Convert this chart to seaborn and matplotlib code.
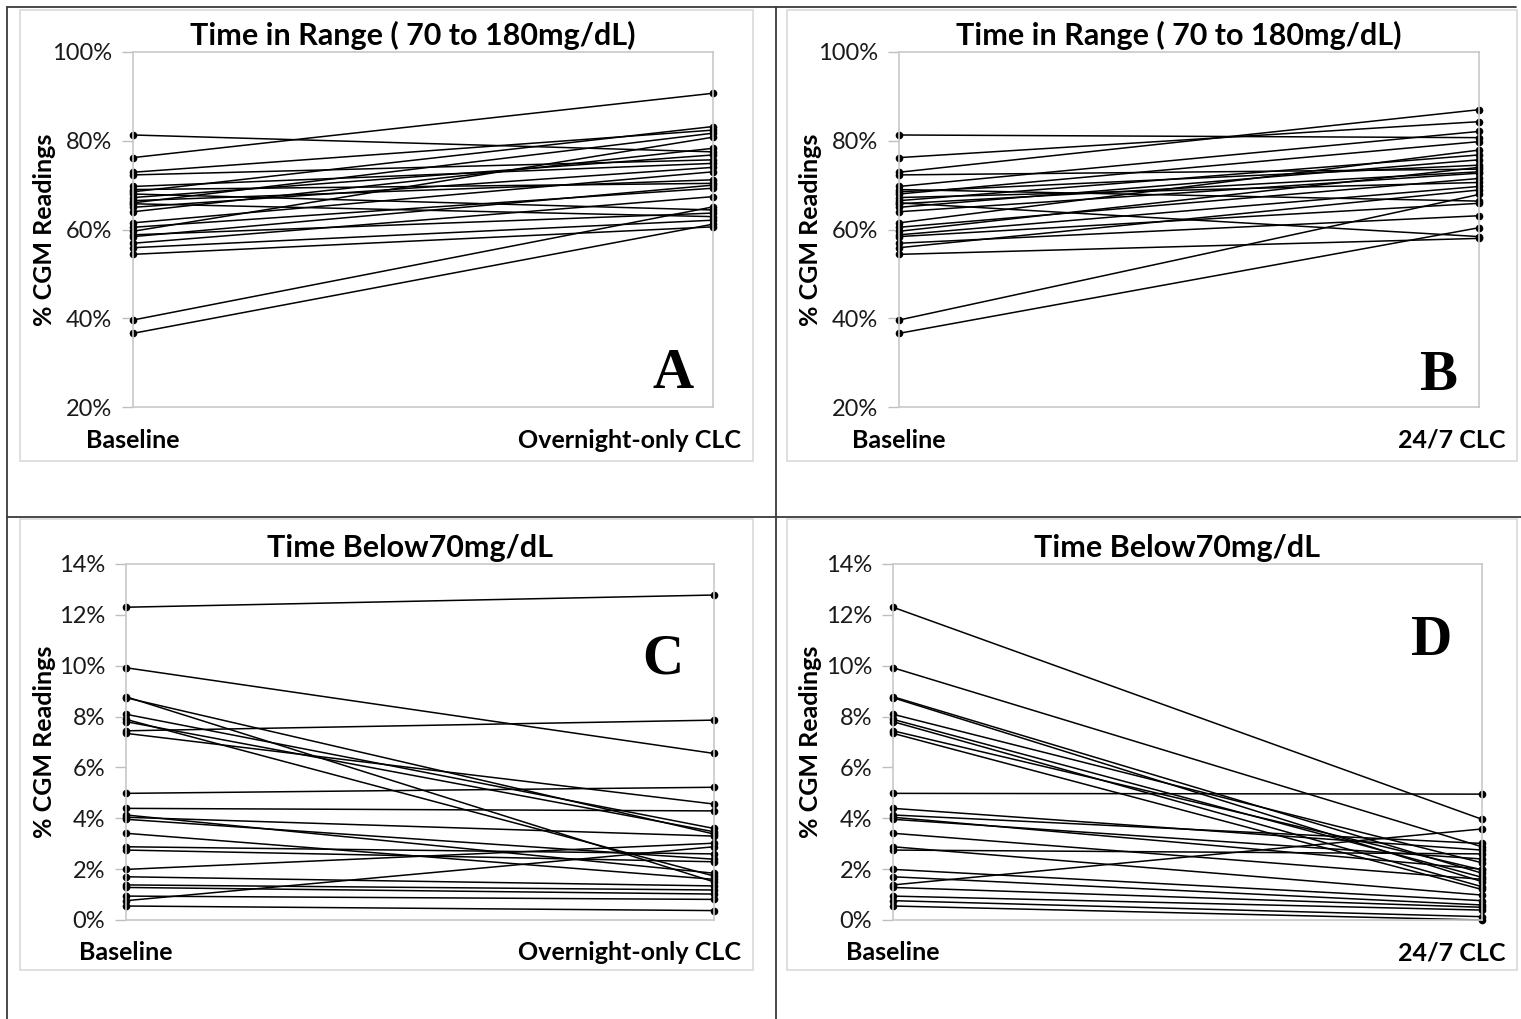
import numpy as np
import pandas as pd
import matplotlib
matplotlib.use("Agg")
import matplotlib.pyplot as plt
from matplotlib.patches import Rectangle
from matplotlib.lines import Line2D
import seaborn as sns

# ---------------- data ----------------
tir_baseline = [81.3, 76.2, 72.9, 72.3, 69.7, 69.0, 68.5, 68.0, 67.2, 66.5, 66.0, 65.8,
                65.0, 64.0, 61.5, 60.5, 59.6, 58.8, 58.4, 56.9, 55.9, 54.4, 39.6, 36.6]
tir_overnight = [77.5, 90.7, 82.4, 75.7, 74.9, 70.4, 83.2, 64.4, 76.8, 71.2, 81.7, 62.9,
                 74.0, 78.3, 73.0, 69.3, 80.8, 63.7, 70.0, 67.4, 62.1, 60.6, 65.1, 61.2]
tir_247 = [80.7, 84.3, 87.0, 73.6, 82.1, 66.4, 74.5, 79.8, 70.6, 76.8, 58.4, 73.0,
           75.7, 72.7, 77.9, 71.5, 74.0, 69.7, 65.9, 63.1, 68.9, 58.0, 67.9, 60.4]

tbr_baseline = [12.3, 9.92, 8.78, 8.74, 8.09, 7.89, 7.80, 7.44, 7.34, 4.98, 4.39, 4.13,
                4.04, 3.96, 3.41, 2.88, 2.75, 1.99, 1.70, 1.38, 1.28, 0.94, 0.76, 0.55]
tbr_overnight = [12.78, 6.55, 1.50, 3.38, 3.60, 1.73, 3.47, 7.86, 4.56, 5.22, 4.29, 1.84,
                 3.30, 2.39, 1.60, 2.60, 2.29, 3.02, 1.34, 1.18, 1.02, 0.81, 2.88, 0.37]
tbr_247 = [3.96, 2.88, 1.84, 1.51, 2.25, 1.68, 1.31, 1.97, 1.20, 4.95, 2.75, 3.01,
           2.00, 2.40, 1.60, 0.98, 2.60, 0.76, 0.59, 3.58, 0.50, 0.39, 0.13, 0.00]

titles = ["Time in Range ( 70 to 180mg/dL)", "Time in Range ( 70 to 180mg/dL)",
          "Time Below70mg/dL", "Time Below70mg/dL"]
end_labels = ["Overnight-only CLC", "24/7 CLC", "Overnight-only CLC", "24/7 CLC"]
panel_letters = ["A", "B", "C", "D"]
tir_ticks = [20, 40, 60, 80, 100]
tbr_ticks = [0, 2, 4, 6, 8, 10, 12, 14]

# ---------------- figure ----------------
sns.set_theme(style="white")
plt.rcParams['font.family'] = ['Lato', 'DejaVu Sans']

W, H = 1521, 1019
fig = plt.figure(figsize=(W / 100, H / 100), dpi=100)
fig.patch.set_facecolor("white")

def fx(x):
    return x / W

def fy(y):
    return 1 - y / H

# outer table lines
tab_col = "#3a3a3a"
for (x0, y0, x1, y1) in [(7, 7, 1516, 7), (7, 7, 7, 1019), (776, 7, 776, 1019), (7, 517, 1521, 517)]:
    fig.add_artist(Line2D([fx(x0), fx(x1)], [fy(y0), fy(y1)], color=tab_col, lw=1.3,
                          transform=fig.transFigure, zorder=-5))

# chart boxes (pixel coords: left, top, right, bottom)
boxes = [(20, 10, 753, 461), (787, 10, 1517, 461), (20, 519, 753, 970), (787, 519, 1517, 970)]
for (l, t, r, b) in boxes:
    fig.add_artist(Rectangle((fx(l), fy(b)), fx(r - l), (b - t) / H, transform=fig.transFigure,
                             facecolor="white", edgecolor="#d9d9d9", lw=1.2, zorder=-10))

# plot areas (left, top, right, bottom)
areas = [(133, 52, 713, 407), (899, 52, 1479, 407), (126, 564, 714, 920), (893, 564, 1482, 920)]
ylabel_x = [56, 822, 56, 822]
letter_pos = [(673, 388), (1438, 390), (663, 673), (1432, 655)]

series = [(tir_baseline, tir_overnight), (tir_baseline, tir_247),
          (tbr_baseline, tbr_overnight), (tbr_baseline, tbr_247)]

for i, ((l, t, r, b), (base, end)) in enumerate(zip(areas, series)):
    ax = fig.add_axes([fx(l), fy(b), fx(r - l), (b - t) / H])
    ax.set_zorder(1)
    n = len(base)
    df = pd.DataFrame({
        "subject": list(range(n)) * 2,
        "pos": [0] * n + [1] * n,
        "value": list(base) + list(end),
    })
    sns.lineplot(data=df, x="pos", y="value", units="subject", estimator=None,
                 color="black", lw=1.1, marker="o", markersize=5.5,
                 markeredgewidth=0, ax=ax, legend=False, clip_on=False)
    ax.set_xlim(0, 1)
    if i < 2:
        ax.set_ylim(20, 100)
        ticks = tir_ticks
    else:
        ax.set_ylim(0, 14)
        ticks = tbr_ticks
    ax.set_yticks(ticks)
    ax.set_yticklabels([f"{v}%" for v in ticks], fontsize=17, color="#1a1a1a")
    ax.set_xticks([])
    ax.set_xlabel("")
    ax.set_ylabel("% CGM Readings", fontsize=18, fontweight="bold", color="black")
    ax.yaxis.set_label_coords((ylabel_x[i] - l) / (r - l), 0.5)
    ax.tick_params(axis="y", which="both", left=True, length=8, width=1, color="#bfbfbf", pad=7)
    for s in ax.spines.values():
        s.set_color("#c8c8c8")
        s.set_linewidth(1.2)
        s.set_visible(True)
    ax.set_facecolor("white")
    ax.set_title(titles[i], fontsize=22, fontweight="bold", color="black", pad=5,
                 x=0.5 - 10 / (r - l))

    # category labels
    box = boxes[i]
    ax_text_y = fy(b + 33)
    fig.text(fx(l), ax_text_y, "Baseline", fontsize=18, fontweight="bold",
             ha="center", va="center", color="black", zorder=5)
    fig.text(fx(box[2] - 12), ax_text_y, end_labels[i], fontsize=18, fontweight="bold",
             ha="right", va="center", color="black", zorder=5)

    # panel letter
    lx, ly = letter_pos[i]
    fig.text(fx(lx), fy(ly), panel_letters[i], fontsize=41, fontweight="bold",
             family="Liberation Serif", ha="center", va="baseline", color="black", zorder=5)

fig.savefig("out.png", dpi=100, facecolor="white")
